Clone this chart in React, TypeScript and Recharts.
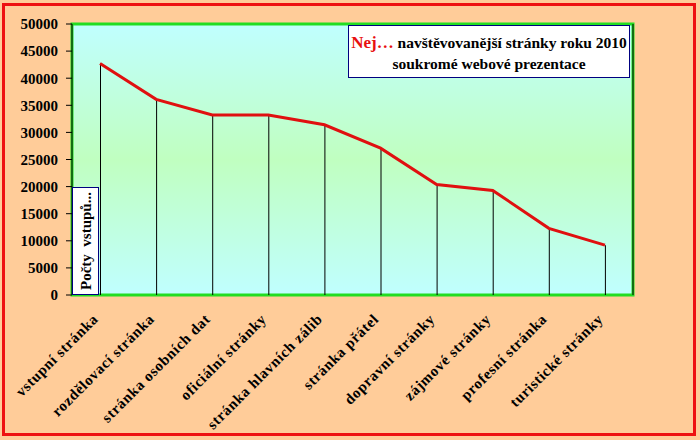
import React from "react";
import {
  ComposedChart,
  Bar,
  Line,
  XAxis,
  YAxis,
  ReferenceArea,
} from "recharts";

const categories = [
  "vstupní stránka",
  "rozdělovací stránka",
  "stránka osobních dat",
  "oficiální stránky",
  "stránka hlavních zálib",
  "stránka přátel",
  "dopravní stránky",
  "zájmové stránky",
  "profesní stránka",
  "turistické stránky",
];
const visits = [42700, 36100, 33200, 33200, 31400, 27100, 20400, 19300, 12300, 9200];
const leftTicks = [0, 5000, 10000, 15000, 20000, 25000, 30000, 35000, 40000, 45000, 50000];
const rightTicks = [0, 2000, 4000, 6000, 8000, 10000, 12000, 14000, 16000, 18000];

const data = categories.map((name, i) => ({ name, visits: visits[i] }));

const FONT = "'Liberation Serif', 'Times New Roman', serif";

function CatTick({ x, y, payload }: any) {
  const ax = x - 1;
  const ay = y + 17;
  return (
    <text
      x={ax}
      y={ay}
      transform={`rotate(-45 ${ax} ${ay})`}
      textAnchor="end"
      fontSize={15}
      fontWeight="bold"
      fontFamily={FONT}
      letterSpacing={0.6}
      fill="#000"
    >
      {payload.value}
    </text>
  );
}

const tickStyle = { fill: "#000", fontSize: 15, fontWeight: "bold" as const, fontFamily: FONT };

export default function App() {
  return (
    <div style={{ position: "absolute", left: 0, top: 0, width: 700, height: 440, background: "#FFCC99", fontFamily: FONT }}>
      <ComposedChart width={700} height={440} data={data} margin={{ top: 24, right: 0, bottom: 0, left: 0 }}>
        <defs>
          <linearGradient id="plotBg" x1="0" y1="0" x2="0" y2="1">
            <stop offset="0%" stopColor="#C0FFFF" />
            <stop offset="50%" stopColor="#C0FFC0" />
            <stop offset="100%" stopColor="#C0FFFF" />
          </linearGradient>
        </defs>
        <XAxis dataKey="name" interval={0} height={145} axisLine={false} tickLine={false} tick={<CatTick />} />
        <YAxis
          yAxisId="left"
          width={72}
          domain={[0, 50000]}
          ticks={leftTicks}
          interval={0}
          tick={tickStyle}
          tickSize={6}
          tickMargin={8}
          axisLine={{ stroke: "#000", strokeWidth: 1 }}
          tickLine={{ stroke: "#000" }}
        />
        <YAxis
          yAxisId="right"
          orientation="right"
          width={67}
          domain={[0, 18000]}
          ticks={rightTicks}
          interval={0}
          tick={{ ...tickStyle, textAnchor: "start" }}
          tickSize={6}
          tickMargin={8}
          axisLine={{ stroke: "#000", strokeWidth: 1 }}
          tickLine={{ stroke: "#000" }}
        />
        <ReferenceArea yAxisId="left" y1={0} y2={50000} fill="url(#plotBg)" fillOpacity={1} stroke="#22DD22" strokeWidth={3} />
        <Bar yAxisId="left" dataKey="visits" barSize={1} fill="#000" isAnimationActive={false} />
        <Line
          yAxisId="left"
          type="linear"
          dataKey="visits"
          stroke="#E01010"
          strokeWidth={3}
          dot={false}
          activeDot={false}
          isAnimationActive={false}
        />
      </ComposedChart>

      <div
        style={{
          position: "absolute",
          left: 348,
          top: 25,
          width: 282,
          height: 53,
          background: "#fff",
          border: "1px solid #000080",
          textAlign: "center",
          fontWeight: "bold",
          fontSize: 15.5,
          lineHeight: "21px",
          paddingTop: 6,
          boxSizing: "border-box",
        }}
      >
        <div>
          <span style={{ color: "#E81010", fontSize: 17 }}>Nej…</span> navštěvovanější stránky roku 2010
        </div>
        <div>soukromé webové prezentace</div>
      </div>

      <div
        style={{
          position: "absolute",
          left: 72,
          top: 187,
          width: 27,
          height: 108,
          background: "#fff",
          border: "1px solid #000080",
          boxSizing: "border-box",
        }}
      >
        <div
          style={{
            position: "absolute",
            left: "50%",
            top: "50%",
            transform: "translate(-50%, -50%) rotate(-90deg)",
            whiteSpace: "nowrap",
            fontWeight: "bold",
            fontSize: 15,
          }}
        >
          Počty&nbsp; vstupů...
        </div>
      </div>

      <div
        style={{
          position: "absolute",
          left: 2,
          top: 3,
          width: 694,
          height: 433,
          border: "3px solid #EE1111",
          boxSizing: "border-box",
          pointerEvents: "none",
        }}
      />
    </div>
  );
}
